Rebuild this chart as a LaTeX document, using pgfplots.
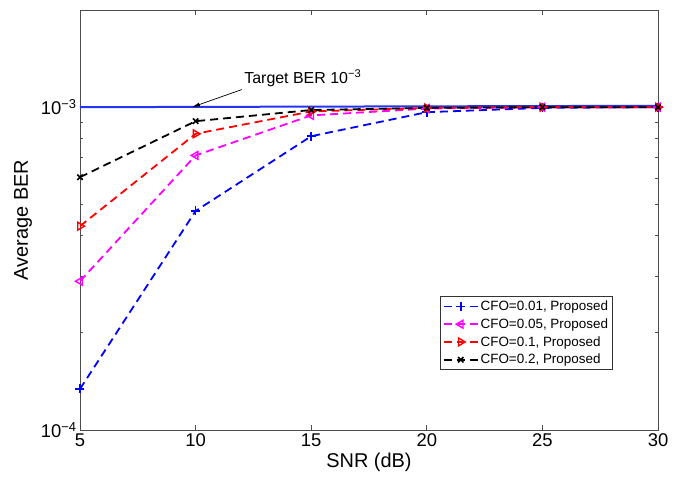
\documentclass[border=0pt]{standalone}
\usepackage{fontspec}
\setmainfont{Liberation Sans}
\usepackage{pgfplots}
\pgfplotsset{compat=1.18}
\usetikzlibrary{arrows.meta}
\definecolor{mblue}{rgb}{0,0,1}
\definecolor{mmag}{rgb}{1,0,1}
\definecolor{mred}{rgb}{1,0,0}
\definecolor{tblue}{rgb}{0.15,0.2,0.95}
\begin{document}
\begin{tikzpicture}
\begin{axis}[
 name=ax,
 scale only axis, width=578bp, height=420bp,
 xmin=5, xmax=30, ymode=log, ymin=1e-4, ymax=2e-3,
 xtick={5,10,...,30},
 ytick={1e-4,1e-3},
 yticklabels={10\textsuperscript{−4},10\textsuperscript{−3}},
 minor ytick={2e-4,3e-4,4e-4,5e-4,6e-4,7e-4,8e-4,9e-4,2e-3},
 tick align=inside,
 major tick length=5bp, minor tick length=3bp,
 /pgf/number format/assume math mode=true,
 ticklabel style={font=\fontsize{18.5}{21}\selectfont},
 xlabel={SNR (dB)}, ylabel={Average BER},
 label style={font=\fontsize{20}{23}\selectfont},
 ylabel shift=2bp,
 axis line style={black!70, line width=0.7bp},
 every tick/.style={black!70, line width=0.7bp},
 legend style={at={(0.922,0.319)}, anchor=north east, font=\fontsize{13.5}{16}\selectfont, draw=black!80, line width=0.7bp, inner sep=2.5bp, row sep=2.5bp, cells={anchor=west}},
 legend image code/.code={\draw[mark repeat=2,mark phase=2,#1] plot coordinates {(0bp,0bp) (17bp,0bp) (34bp,0bp)};},
]
\addplot[tblue, line width=2bp, forget plot] coordinates {(5,1e-3) (30,1.01e-3)};
\addplot[mblue, line width=1.8bp, dash pattern=on 8bp off 5bp, mark=+, mark size=4.5bp, mark options={solid, line width=1.6bp}]
 coordinates {(5,1.34e-4) (10,4.77e-4) (15,8.13e-4) (20,9.65e-4) (25,9.95e-4) (30,1.0e-3)};
\addlegendentry{CFO=0.01, Proposed}
\addplot[mmag, line width=1.8bp, dash pattern=on 8bp off 5bp, mark=triangle, mark size=4.5bp, mark options={solid, rotate=90, line width=1.4bp}]
 coordinates {(5,2.89e-4) (10,7.09e-4) (15,9.43e-4) (20,9.9e-4) (25,1.0e-3) (30,1.0e-3)};
\addlegendentry{CFO=0.05, Proposed}
\addplot[mred, line width=1.8bp, dash pattern=on 8bp off 5bp, mark=triangle, mark size=4.5bp, mark options={solid, rotate=-90, line width=1.4bp}]
 coordinates {(5,4.28e-4) (10,8.27e-4) (15,9.70e-4) (20,9.95e-4) (25,1.0e-3) (30,1.0e-3)};
\addlegendentry{CFO=0.1, Proposed}
\addplot[black, line width=1.8bp, dash pattern=on 8bp off 5bp, mark=x, mark size=3.8bp, mark options={solid, line width=1.6bp}]
 coordinates {(5,6.07e-4) (10,9.05e-4) (15,9.8e-4) (20,9.95e-4) (25,1.0e-3) (30,1.0e-3)};
\addlegendentry{CFO=0.2, Proposed}
\draw[black, line width=0.7bp, -{Latex[length=8bp,width=4bp]}] (axis cs:12.0,1.134e-3) -- (axis cs:9.84,1.0e-3);
\node[anchor=west, inner sep=0pt, font=\fontsize{16}{19}\selectfont] at (axis cs:12.1,1.227e-3) {Target BER 10\textsuperscript{−3}};
\end{axis}
\pgfresetboundingbox
\path ([shift={(-80bp,-57bp)}]ax.south west) rectangle ([shift={(25bp,10bp)}]ax.north east);
\end{tikzpicture}
\end{document}
